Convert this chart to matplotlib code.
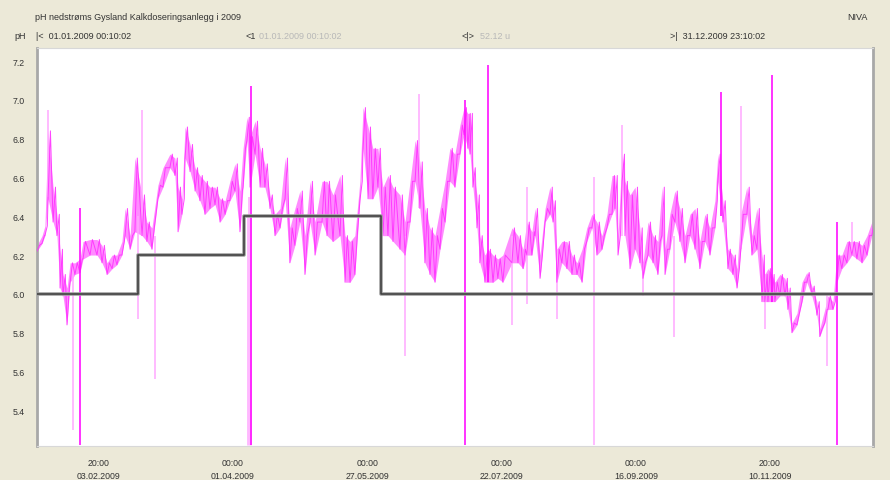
import numpy as np
import matplotlib
matplotlib.use('Agg')
import matplotlib.pyplot as plt
import matplotlib.dates as mdates

plt.rcParams['font.family'] = ['Liberation Sans', 'DejaVu Sans']

start = np.datetime64('2009-01-01T00:00')

# pH band: day of year, lower and upper edge of the noisy trace
days = [8.3, 10.4, 11.6, 12.9, 15.0, 16.6, 17.9, 19.1, 20.8, 22.1, 24.1, 26.2, 27.5, 30.4, 33.3,
        35.4, 37.5, 39.6, 41.6, 43.7, 45.0, 47.1, 49.1, 52.1, 54.1, 56.2, 58.7, 60.8, 63.7, 65.8,
        67.1, 68.7, 70.0, 72.1, 74.2, 76.2, 78.3, 80.4, 82.5, 84.6, 86.7, 88.7, 90.8, 92.9, 94.2,
        95.8, 97.1, 99.2, 101.3, 103.3, 105.4, 107.5, 109.6, 111.7, 113.7, 115.8, 117.9, 120.0, 122.1, 124.2,
        127.1, 129.2, 131.7, 134.6, 136.7, 138.8, 140.8, 142.9, 144.2, 146.3, 148.3, 150.4, 152.5, 154.6, 156.7,
        159.6, 161.7, 163.8, 165.9, 167.9, 170.0, 172.1, 174.2, 176.3, 178.4, 180.4, 182.5, 184.6, 186.3, 187.9,
        188.8, 190.0, 191.7, 192.9, 195.0, 196.3, 198.4, 200.4, 202.5, 206.3, 208.8, 210.9, 212.5, 214.6, 215.9,
        218.0, 220.1, 222.1, 223.4, 225.0, 227.1, 229.2, 231.3, 233.4, 235.5, 237.5, 239.6, 241.7, 243.8, 245.9,
        248.0, 249.2, 250.5, 252.2, 253.4, 255.5, 257.6, 259.6, 260.9, 263.0, 265.1, 267.1, 268.8, 270.1, 272.1,
        274.2, 276.3, 278.4, 280.5, 282.6, 284.6, 286.7, 288.8, 290.9, 292.1, 294.2, 296.3, 298.4, 300.1, 301.7,
        304.2, 306.3, 308.4, 310.5, 311.7, 313.0, 314.6, 315.9, 318.0, 320.1, 321.3, 323.0, 325.1, 327.2, 329.2,
        331.3, 333.4, 334.6, 336.7, 338.0, 340.1, 341.7, 343.8, 345.9, 348.0, 350.1, 352.2, 354.3, 356.3, 357.0]
ph_lo = [6.22, 6.26, 6.30, 6.49, 6.37, 6.30, 6.03, 5.99, 5.84, 6.06, 6.10, 6.11, 6.18, 6.20, 6.20,
         6.16, 6.10, 6.13, 6.15, 6.20, 6.30, 6.23, 6.32, 6.30, 6.27, 6.23, 6.49, 6.55, 6.65, 6.61,
         6.32, 6.41, 6.70, 6.63, 6.53, 6.48, 6.41, 6.44, 6.46, 6.37, 6.41, 6.48, 6.53, 6.32, 6.55,
         6.79, 6.55, 6.72, 6.55, 6.55, 6.44, 6.30, 6.34, 6.49, 6.16, 6.25, 6.37, 6.10, 6.37, 6.20,
         6.37, 6.30, 6.27, 6.30, 6.06, 6.06, 6.10, 6.48, 6.75, 6.49, 6.49, 6.55, 6.30, 6.30, 6.27,
         6.23, 6.20, 6.37, 6.58, 6.44, 6.16, 6.10, 6.06, 6.23, 6.37, 6.58, 6.55, 6.72, 6.82, 6.75,
         6.72, 6.55, 6.34, 6.16, 6.06, 6.06, 6.06, 6.08, 6.06, 6.16, 6.16, 6.13, 6.20, 6.20, 6.30,
         6.08, 6.37, 6.41, 6.37, 6.06, 6.16, 6.13, 6.10, 6.10, 6.06, 6.27, 6.34, 6.20, 6.23, 6.34,
         6.41, 6.44, 6.20, 6.58, 6.30, 6.13, 6.23, 6.16, 6.08, 6.20, 6.16, 6.10, 6.30, 6.10, 6.23,
         6.37, 6.27, 6.16, 6.30, 6.23, 6.13, 6.27, 6.20, 6.34, 6.58, 6.37, 6.13, 6.10, 6.03, 6.23,
         6.41, 6.20, 6.23, 5.96, 5.96, 5.96, 5.96, 5.96, 5.99, 5.99, 5.92, 5.80, 5.84, 5.96, 6.06,
         5.99, 5.89, 5.78, 5.85, 5.92, 5.92, 6.06, 6.13, 6.16, 6.20, 6.18, 6.16, 6.20, 6.30, 6.33]
ph_hi = [6.25, 6.30, 6.35, 6.84, 6.55, 6.41, 6.23, 6.10, 6.03, 6.16, 6.16, 6.18, 6.27, 6.28, 6.28,
         6.25, 6.16, 6.20, 6.20, 6.27, 6.44, 6.30, 6.70, 6.51, 6.37, 6.34, 6.56, 6.65, 6.72, 6.70,
         6.55, 6.49, 6.86, 6.77, 6.65, 6.61, 6.58, 6.55, 6.55, 6.49, 6.48, 6.58, 6.67, 6.53, 6.75,
         6.91, 6.81, 6.89, 6.75, 6.67, 6.51, 6.41, 6.44, 6.70, 6.34, 6.44, 6.53, 6.30, 6.58, 6.37,
         6.58, 6.58, 6.51, 6.61, 6.30, 6.27, 6.30, 6.58, 6.96, 6.86, 6.75, 6.75, 6.55, 6.61, 6.55,
         6.51, 6.37, 6.58, 6.79, 6.68, 6.44, 6.34, 6.30, 6.44, 6.58, 6.75, 6.72, 6.87, 6.96, 6.93,
         6.93, 6.65, 6.51, 6.30, 6.20, 6.23, 6.20, 6.18, 6.20, 6.34, 6.30, 6.23, 6.37, 6.32, 6.44,
         6.20, 6.44, 6.55, 6.48, 6.23, 6.27, 6.27, 6.20, 6.16, 6.23, 6.34, 6.41, 6.37, 6.30, 6.41,
         6.61, 6.61, 6.30, 6.72, 6.58, 6.51, 6.55, 6.34, 6.16, 6.37, 6.30, 6.27, 6.55, 6.23, 6.41,
         6.53, 6.44, 6.30, 6.41, 6.44, 6.27, 6.41, 6.34, 6.48, 6.72, 6.48, 6.23, 6.20, 6.13, 6.41,
         6.55, 6.30, 6.44, 6.20, 6.10, 6.13, 6.10, 6.06, 6.10, 6.08, 6.03, 5.85, 5.90, 6.06, 6.11,
         6.04, 5.96, 5.82, 5.92, 5.99, 5.96, 6.20, 6.20, 6.27, 6.27, 6.27, 6.25, 6.30, 6.37, 6.38]

# isolated spikes: day, bottom, top, strong (1) or faint (0)
spike_day = [12.9, 23.3, 26.2, 50.4, 52.1, 57.5, 96.5, 97.6, 161.7, 167.5, 186.7, 196.5, 206.3, 212.5,
             225.0, 240.5, 252.2, 260.9, 273.8, 293.4, 301.7, 311.7, 314.6, 337.5, 341.7, 348.0]
spike_lo = [6.50, 5.30, 5.22, 5.87, 6.30, 5.56, 5.22, 5.22, 5.68, 6.44, 5.22, 6.06, 5.84, 5.95,
            5.87, 5.22, 6.30, 5.99, 5.78, 6.40, 6.23, 5.82, 5.96, 5.63, 5.22, 6.20]
spike_hi = [6.95, 6.15, 6.44, 6.40, 6.95, 6.30, 6.50, 7.07, 6.30, 7.03, 7.00, 7.18, 6.30, 6.55,
            6.23, 6.60, 6.87, 6.16, 6.30, 7.04, 6.97, 6.10, 7.13, 6.00, 6.37, 6.37]
spike_strong = [0, 0, 1, 0, 0, 0, 0, 1, 0, 0, 1, 1, 0, 0,
                0, 0, 0, 0, 0, 1, 0, 0, 1, 0, 1, 0]

# limit value (step line)
limit_day = [0, 50.5, 94.5, 151.5, 365]
limit_ph = [6.0, 6.2, 6.4, 6.0, 6.0]

tick_days = [33 + 20 / 24, 90.0, 146.0, 202.0, 258.0, 313 + 20 / 24]
ytick_vals = [5.4, 5.6, 5.8, 6.0, 6.2, 6.4, 6.6, 6.8, 7.0, 7.2]


def to_date(d):
    return start + np.round(np.asarray(d) * 1440).astype('timedelta64[m]')


bg = '#ECE9D8'
fig = plt.figure(figsize=(8.9, 4.81), dpi=100, facecolor=bg)
ax = fig.add_axes([37 / 890, 34 / 481, 836 / 890, 398 / 481])
ax.set_facecolor('white')

t = to_date(days)
lo = np.array(ph_lo)
hi = np.array(ph_hi)
ax.fill_between(t, lo, hi, color='#FF8CFF', lw=0, zorder=2)
# jagged trace between the edges
zx = to_date(np.ravel(np.column_stack([days, np.array(days) + 1.0])))
zy = np.ravel(np.column_stack([lo, hi]))
ax.plot(zx, zy, color='#FF30FF', lw=0.7, alpha=0.9, zorder=3)

for d, a, b, s in zip(spike_day, spike_lo, spike_hi, spike_strong):
    if s:
        ax.vlines(to_date(d), a, b, color='#FF10FF', lw=1.2, zorder=3)
    else:
        ax.vlines(to_date(d), a, b, color='#FFA8FF', lw=1.1, zorder=2)
ax.vlines(to_date(96.5), 5.22, 6.4, color='#FFB8FF', lw=3.5, zorder=2)

ax.step(to_date(limit_day), limit_ph, where='post', color='#a0a0a0', lw=2.6, zorder=4)
ax.step(to_date(limit_day), limit_ph, where='post', color='#3c3c3c', lw=1.1, zorder=5)

ax.set_xlim(to_date(8.3), to_date(356.8))
ax.set_ylim(5.216, 7.267)
ax.set_yticks(ytick_vals)
ax.set_yticklabels(['%.1f' % v for v in ytick_vals])
ax.set_xticks(to_date(tick_days))
ax.xaxis.set_major_formatter(mdates.DateFormatter('%H:%M\n%d.%m.%Y'))
ax.tick_params(axis='both', length=0, labelsize=6.3, colors='#333333')
ax.tick_params(axis='x', pad=9)
ax.tick_params(axis='y', pad=9)
for lab in ax.get_xticklabels():
    lab.set_linespacing(1.5)
for side in ['left', 'right']:
    ax.spines[side].set_color('#a8a8a8')
    ax.spines[side].set_linewidth(2)
for side in ['top', 'bottom']:
    ax.spines[side].set_color('#d8d8d8')
    ax.spines[side].set_linewidth(0.8)

# header
fig.text(35 / 890, 1 - 17 / 481, 'pH nedstrøms Gysland Kalkdoseringsanlegg i 2009', fontsize=6.5,
         color='#333333', va='center')
fig.text(868 / 890, 1 - 17 / 481, 'NIVA', fontsize=6.5, color='#333333', va='center', ha='right')
fig.text(14 / 890, 1 - 37 / 481, 'pH', fontsize=6.5, color='#333333', va='center')
fig.text(36 / 890, 1 - 37 / 481, '|<  01.01.2009 00:10:02', fontsize=6.5, color='#333333', va='center')
fig.text(246 / 890, 1 - 37 / 481, '<1', fontsize=6.5, color='#333333', va='center')
fig.text(259 / 890, 1 - 37 / 481, '01.01.2009 00:10:02', fontsize=6.5, color='#b8b8b8', va='center')
fig.text(462 / 890, 1 - 37 / 481, '<|>', fontsize=6.5, color='#333333', va='center')
fig.text(480 / 890, 1 - 37 / 481, '52.12 u', fontsize=6.5, color='#b8b8b8', va='center')
fig.text(670 / 890, 1 - 37 / 481, '>|  31.12.2009 23:10:02', fontsize=6.5, color='#333333', va='center')

fig.savefig('out.png', dpi=100, facecolor=bg)
